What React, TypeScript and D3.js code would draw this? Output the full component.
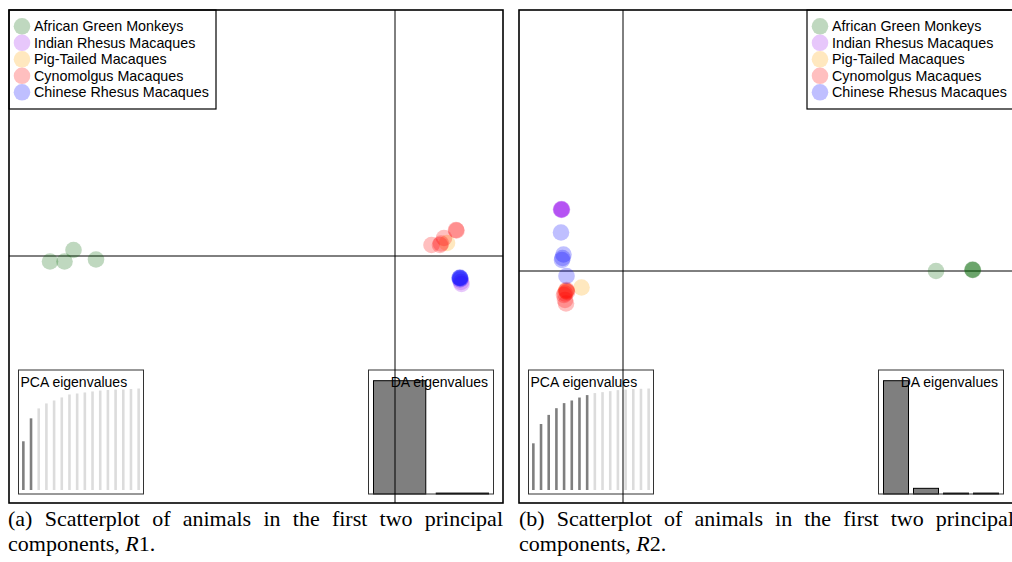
import React, { useEffect, useRef } from "react";
import * as d3 from "d3";

// ---------- data ----------
const groups = [
  "African Green Monkeys",
  "Indian Rhesus Macaques",
  "Pig-Tailed Macaques",
  "Cynomolgus Macaques",
  "Chinese Rhesus Macaques",
];
const groupColors = ["#006400", "#a020f0", "#ffa500", "#ff0000", "#0000ff"];

// [group index, PC1, PC2]
const r1Points: [number, number, number][] = [
  [0, -6.9, -0.11], [0, -6.61, -0.11], [0, -6.43, 0.12], [0, -5.98, -0.07],
  [1, 1.33, -0.56], [1, 1.32, -0.52],
  [2, 1.04, 0.26],
  [3, 0.73, 0.22], [3, 0.9, 0.22], [3, 0.92, 0.25], [3, 0.98, 0.36],
  [3, 1.22, 0.52], [3, 1.23, 0.51],
  [4, 1.3, -0.44], [4, 1.3, -0.43], [4, 1.29, -0.44], [4, 1.31, -0.45], [4, 1.3, -0.47],
];
const r2Points: [number, number, number][] = [
  [0, 6.26, 0.0], [0, 6.99, 0.02], [0, 6.99, 0.03], [0, 7.0, 0.02],
  [1, -1.23, 1.23], [1, -1.23, 1.24], [1, -1.22, 1.23], [1, -1.23, 1.22], [1, -1.24, 1.23],
  [2, -0.83, -0.33], [2, -1.14, -0.4],
  [3, -1.16, -0.45], [3, -1.13, -0.38], [3, -1.12, -0.42], [3, -1.18, -0.48],
  [3, -1.14, -0.65], [3, -1.16, -0.58], [3, -1.13, -0.4],
  [4, -1.24, 0.77], [4, -1.19, 0.33], [4, -1.21, 0.26], [4, -1.22, 0.22], [4, -1.13, -0.1],
];

const r1Domain = { x: [-7.72, 2.16], y: [-4.94, 4.92] };
const r2Domain = { x: [-2.08, 7.8], y: [-4.64, 5.22] };

const pcaEigR1 = [48, 70.6, 80.4, 85.3, 88.2, 91.2, 94.1, 95.1, 96.1, 97.1, 98, 98.5, 99, 99, 99.5, 100];
const pcaEigR2 = [46, 65, 74, 80.6, 85.6, 88.2, 91.1, 93.5, 95.5, 96.4, 97.4, 98.4, 99, 99.4, 99.7, 100];
const pcaKeptR1 = 2;
const pcaKeptR2 = 8;
const daEigR1 = [100, 0.8];
const daEigR2 = [100, 5, 0.8, 0.8];

const captionR1 = ["(a)", "Scatterplot", "of", "animals", "in", "the", "first", "two", "principal"];
const captionR2 = ["(b)", "Scatterplot", "of", "animals", "in", "the", "first", "two", "principal"];
const caption2R1 = ["components, ", "R", "1."];
const caption2R2 = ["components, ", "R", "2."];

// ---------- layout ----------
const W = 1012;
const H = 562;
const SANS = "'Liberation Sans', Arial, Helvetica, sans-serif";
const SERIF = "'Liberation Serif', 'Times New Roman', Times, serif";

type PanelProps = {
  x0: number;
  points: [number, number, number][];
  domain: { x: number[]; y: number[] };
  pca: number[];
  kept: number;
  da: number[];
  legendRight: boolean;
};

function Panel({ x0, points, domain, pca, kept, da, legendRight }: PanelProps) {
  const box = { x: x0, y: 10, w: 494, h: 493 };
  const xs = d3.scaleLinear().domain(domain.x).range([box.x, box.x + box.w]);
  const ys = d3.scaleLinear().domain(domain.y).range([box.y + box.h, box.y]);

  const pcaBox = { x: box.x + 9.5, y: 370, w: 125, h: 124 };
  const daBox = { x: box.x + 359.5, y: 370, w: 125, h: 124 };

  const pcaX = d3
    .scaleBand<number>()
    .domain(d3.range(pca.length))
    .range([pcaBox.x + 1, pcaBox.x + pcaBox.w - 1]);
  const pcaY = d3.scaleLinear().domain([0, 100]).range([pcaBox.y + 120, pcaBox.y + 18.5]);

  const daX = d3
    .scaleBand<number>()
    .domain(d3.range(da.length))
    .range([daBox.x + 5, daBox.x + 120])
    .paddingInner(1 / 6)
    .paddingOuter(0);
  const daY = d3.scaleLinear().domain([0, d3.max(da) as number]).range([daBox.y + 124, daBox.y + 10.7]);

  const legend = { x: legendRight ? box.x + 288 : box.x, y: 10, w: 207, h: 99 };

  return (
    <g>
      {/* PCA inset */}
      <g>
        {pca.map((v, i) => (
          <line
            key={i}
            x1={(pcaX(i) as number) + pcaX.bandwidth() / 2}
            x2={(pcaX(i) as number) + pcaX.bandwidth() / 2}
            y1={pcaY(0)}
            y2={pcaY(v)}
            stroke={i < kept ? "#7f7f7f" : "#dcdcdc"}
            strokeWidth={2.6}
          />
        ))}
        <rect x={pcaBox.x} y={pcaBox.y} width={pcaBox.w} height={pcaBox.h} fill="none" stroke="#333" strokeWidth={1} />
        <text x={pcaBox.x + 2} y={pcaBox.y + 17} fontFamily={SANS} fontSize={14} fill="#000">
          PCA eigenvalues
        </text>
      </g>
      {/* DA inset */}
      <g>
        {da.map((v, i) => (
          <rect
            key={i}
            x={daX(i) as number}
            y={daY(v)}
            width={daX.bandwidth()}
            height={daY(0) - daY(v)}
            fill="#7f7f7f"
            stroke="#000"
            strokeWidth={1}
          />
        ))}
        <rect x={daBox.x} y={daBox.y} width={daBox.w} height={daBox.h} fill="none" stroke="#333" strokeWidth={1} />
        <text
          x={daBox.x + daBox.w - 5.5}
          y={daBox.y + 17}
          fontFamily={SANS}
          fontSize={14}
          textAnchor="end"
          fill="#000"
        >
          DA eigenvalues
        </text>
      </g>
      {/* zero axes */}
      <line x1={box.x} x2={box.x + box.w} y1={ys(0)} y2={ys(0)} stroke="#000" strokeWidth={1} />
      <line x1={xs(0)} x2={xs(0)} y1={box.y} y2={box.y + box.h} stroke="#000" strokeWidth={1} />
      {/* points */}
      {points.map((p, i) => (
        <circle key={i} cx={xs(p[1])} cy={ys(p[2])} r={8.3} fill={groupColors[p[0]]} fillOpacity={0.25} />
      ))}
      {/* legend */}
      <rect x={legend.x} y={legend.y} width={legend.w} height={legend.h} fill="#fff" stroke="#000" strokeWidth={1.2} />
      {groups.map((g, i) => (
        <g key={g}>
          <circle cx={legend.x + 13} cy={26.3 + i * 16.5} r={8.3} fill={groupColors[i]} fillOpacity={0.25} />
          <text x={legend.x + 25} y={26.3 + i * 16.5} dy="0.36em" fontFamily={SANS} fontSize={14.3} fill="#000">
            {g}
          </text>
        </g>
      ))}
      {/* frame */}
      <rect x={box.x} y={box.y} width={box.w} height={box.h} fill="none" stroke="#000" strokeWidth={1.6} />
    </g>
  );
}

function Caption({ x0, words, line2 }: { x0: number; words: string[]; line2: string[] }) {
  const ref = useRef<SVGGElement>(null);
  useEffect(() => {
    const g = d3.select(ref.current);
    g.selectAll("*").remove();
    const fs = 22;
    const width = 495;
    const texts = words.map((w) =>
      g
        .append("text")
        .attr("y", 526)
        .attr("font-family", SERIF)
        .attr("font-size", fs)
        .attr("fill", "#000")
        .text(w)
    );
    const widths = texts.map((t) => (t.node() as SVGTextElement).getComputedTextLength());
    const total = d3.sum(widths);
    const gap = (width - total) / (words.length - 1);
    let cx = x0;
    texts.forEach((t, i) => {
      t.attr("x", cx);
      cx += widths[i] + gap;
    });
    const t2 = g
      .append("text")
      .attr("x", x0)
      .attr("y", 551)
      .attr("font-family", SERIF)
      .attr("font-size", fs)
      .attr("fill", "#000");
    t2.append("tspan").text(line2[0]);
    t2.append("tspan").attr("font-style", "italic").text(line2[1]);
    t2.append("tspan").text(line2[2]);
  }, [x0, words, line2]);
  return <g ref={ref} />;
}

export default function App() {
  return (
    <div style={{ position: "absolute", left: 0, top: 0 }}>
      <style>{"body{margin:0}"}</style>
      <svg width={W} height={H} viewBox={`0 0 ${W} ${H}`} style={{ display: "block", background: "#fff" }}>
        <rect x={0} y={0} width={W} height={H} fill="#fff" />
        <Panel x0={9} points={r1Points} domain={r1Domain} pca={pcaEigR1} kept={pcaKeptR1} da={daEigR1} legendRight={false} />
        <Panel x0={519} points={r2Points} domain={r2Domain} pca={pcaEigR2} kept={pcaKeptR2} da={daEigR2} legendRight={true} />
        <Caption x0={8} words={captionR1} line2={caption2R1} />
        <Caption x0={519} words={captionR2} line2={caption2R2} />
      </svg>
    </div>
  );
}
